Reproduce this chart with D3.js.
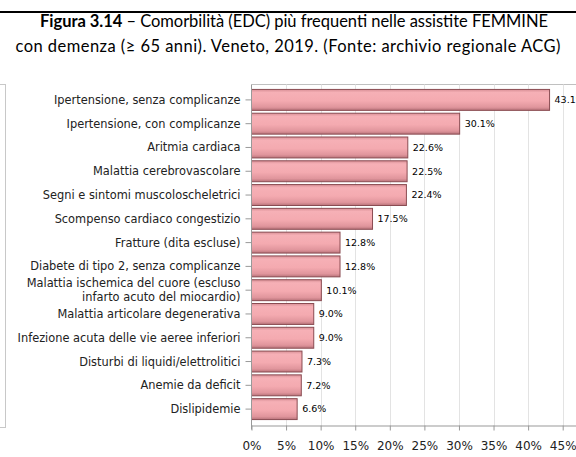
<!DOCTYPE html>
<html>
<head>
<meta charset="utf-8">
<script src="https://cdn.jsdelivr.net/npm/d3@7"></script>
<style>
  body { margin: 0; background: #fff; }
  svg { display: block; }
</style>
</head>
<body>
<svg width="576" height="457"></svg>
<script>
// comorbidita' nelle femmine con demenza, % (dal grafico)
var categories = [
  "Ipertensione, senza complicanze",
  "Ipertensione, con complicanze",
  "Aritmia cardiaca",
  "Malattia cerebrovascolare",
  "Segni e sintomi muscoloscheletrici",
  "Scompenso cardiaco congestizio",
  "Fratture (dita escluse)",
  "Diabete di tipo 2, senza complicanze",
  "Malattia ischemica del cuore (escluso|infarto acuto del miocardio)",
  "Malattia articolare degenerativa",
  "Infezione acuta delle vie aeree inferiori",
  "Disturbi di liquidi/elettrolitici",
  "Anemie da deficit",
  "Dislipidemie"
];
var values = [43.1, 30.1, 22.6, 22.5, 22.4, 17.5, 12.8, 12.8, 10.1, 9.0, 9.0, 7.3, 7.2, 6.6];
var xTicks = [0, 5, 10, 15, 20, 25, 30, 35, 40, 45];

var svg = d3.select("svg");
var font = "'DejaVu Sans', Verdana, sans-serif";

// linea nera in alto
svg.append("rect")
    .attr("x", 0).attr("y", 11)
    .attr("width", 576).attr("height", 2)
    .attr("fill", "#000");

var title = svg.append("text")
    .attr("x", 294).attr("y", 27)
    .attr("text-anchor", "middle")
    .attr("font-family", "Lato, 'Open Sans', sans-serif")
    .attr("font-size", "16.5px")
    .attr("textLength", 508)
    .attr("lengthAdjust", "spacing")
    .attr("fill", "#000");
title.append("tspan").attr("font-weight", "bold").text("Figura 3.14");
title.append("tspan").text(" \u2013 Comorbilit\u00e0 (EDC) pi\u00f9 frequenti nelle assistite FEMMINE");

svg.append("text")
    .attr("x", 288).attr("y", 52)
    .attr("text-anchor", "middle")
    .attr("font-family", "Lato, 'Open Sans', sans-serif")
    .attr("font-size", "16.5px")
    .attr("textLength", 545)
    .attr("lengthAdjust", "spacing")
    .attr("fill", "#000")
    .text("con demenza (\u2265 65 anni). Veneto, 2019. (Fonte: archivio regionale ACG)");

// riquadro a sinistra (legenda tagliata)
svg.append("rect")
    .attr("x", -100).attr("y", 84.5)
    .attr("width", 105.5).attr("height", 343)
    .attr("fill", "none")
    .attr("stroke", "#c8c8c8");

var x = d3.scaleLinear()
    .domain([0, 45])
    .range([251.5, 562.7]);

var y = d3.scaleBand()
    .domain(categories)
    .range([88, 421])
    .paddingInner(0.12)
    .paddingOuter(0.06);

var plotTop = 84.5, plotBottom = 425.5;

// cornice area del grafico
svg.append("line")
    .attr("x1", x(0)).attr("x2", 600)
    .attr("y1", plotTop).attr("y2", plotTop)
    .attr("stroke", "#c0c0c0");

// griglia
svg.append("g")
  .selectAll("line")
  .data(xTicks.slice(1))
  .enter().append("line")
    .attr("x1", function(d) { return Math.round(x(d)) + 0.5; })
    .attr("x2", function(d) { return Math.round(x(d)) + 0.5; })
    .attr("y1", plotTop)
    .attr("y2", plotBottom)
    .attr("stroke", "#e3e3e3");

var defs = svg.append("defs");
var grad = defs.append("linearGradient")
    .attr("id", "barGrad")
    .attr("x1", 0).attr("x2", 0).attr("y1", 0).attr("y2", 1);
grad.append("stop").attr("offset", "0%").attr("stop-color", "#d88f96");
grad.append("stop").attr("offset", "15%").attr("stop-color", "#f6b0b6");
grad.append("stop").attr("offset", "55%").attr("stop-color", "#f4aab0");
grad.append("stop").attr("offset", "85%").attr("stop-color", "#e0959c");
grad.append("stop").attr("offset", "100%").attr("stop-color", "#b8737a");

svg.append("g")
  .selectAll("rect")
  .data(values)
  .enter().append("rect")
    .attr("x", x(0))
    .attr("y", function(d, i) { return y(categories[i]); })
    .attr("width", function(d) { return x(d) - x(0); })
    .attr("height", y.bandwidth())
    .attr("fill", "url(#barGrad)")
    .attr("stroke", "#8a4c52")
    .attr("stroke-width", 1);

// etichette valori
svg.append("g")
  .selectAll("text")
  .data(values)
  .enter().append("text")
    .attr("x", function(d) { return x(d) + 5; })
    .attr("y", function(d, i) { return y(categories[i]) + y.bandwidth() / 2; })
    .attr("dy", "0.35em")
    .attr("font-family", font)
    .attr("font-size", "9.5px")
    .attr("fill", "#000")
    .text(function(d) { return d.toFixed(1) + "%"; });

// asse y
var yAxis = svg.append("g")
    .attr("transform", "translate(" + x(0) + ",0)")
    .call(d3.axisLeft(y).tickSize(6).tickPadding(4).tickFormat(""));
yAxis.select(".domain").remove();
yAxis.selectAll(".tick line").attr("stroke", "#999");

svg.append("line")
    .attr("x1", x(0)).attr("x2", x(0))
    .attr("y1", plotTop).attr("y2", plotBottom + 4)
    .attr("stroke", "#999");

var labels = svg.append("g")
  .selectAll("text")
  .data(categories)
  .enter().append("text")
    .attr("x", x(0) - 11)
    .attr("y", function(d) { return y(d) + y.bandwidth() / 2; })
    .attr("text-anchor", "end")
    .attr("font-family", font)
    .attr("font-size", "11.4px")
    .attr("fill", "#222");
labels.each(function(d) {
  var parts = d.split("|");
  var t = d3.select(this);
  parts.forEach(function(p, k) {
    t.append("tspan")
      .attr("x", x(0) - 11)
      .attr("dy", k === 0 ? (0.35 - (parts.length - 1) * 0.6) + "em" : "1.2em")
      .text(p);
  });
});

// asse x
var xAxis = svg.append("g")
    .attr("transform", "translate(0," + plotBottom + ")")
    .call(d3.axisBottom(x).tickValues(xTicks).tickSize(5).tickPadding(11)
      .tickFormat(function(d) { return d + "%"; }));
xAxis.select(".domain").attr("stroke", "#999").attr("d", "M" + x(0) + ",0.5H600");
xAxis.selectAll(".tick line").attr("stroke", "#999");
xAxis.selectAll(".tick text")
    .attr("font-family", font)
    .attr("font-size", "12px")
    .attr("fill", "#222");
</script>
</body>
</html>
